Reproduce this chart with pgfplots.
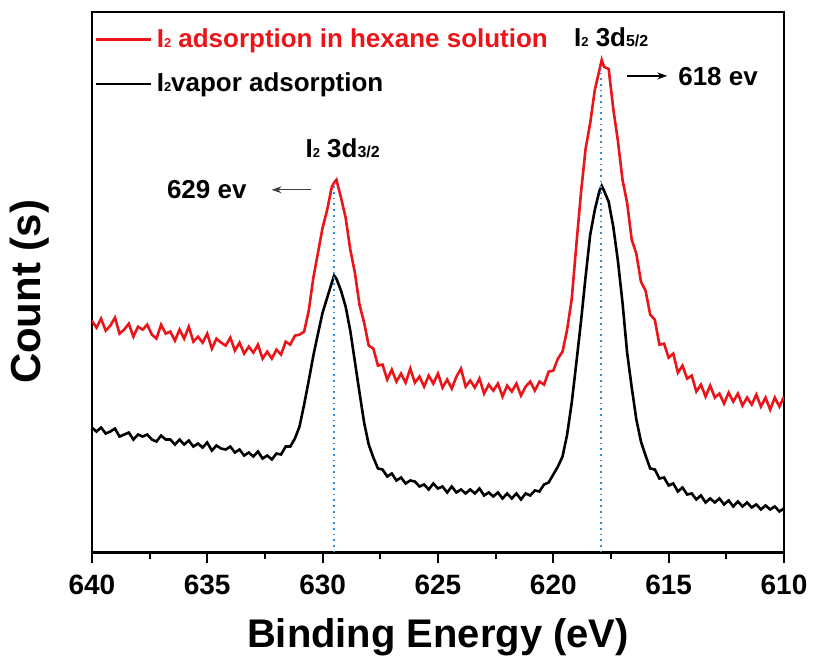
\documentclass[border=0pt]{standalone}
\usepackage{fontspec}
\setmainfont{Liberation Sans}
\usepackage{pgfplots}
\pgfplotsset{compat=1.18}
\usetikzlibrary{arrows.meta}
\definecolor{dotblue}{RGB}{45,140,230}
\definecolor{myred}{RGB}{235,20,25}
\newcommand{\sub}[1]{{\fontsize{6.5}{7}\selectfont #1}}
\newcommand{\fr}[1]{{\fontsize{8}{9}\selectfont #1}}
\begin{document}
\begin{tikzpicture}
\begin{axis}[
 scale only axis, width=346.5pt, height=270.5pt,
 xmin=610, xmax=640, x dir=reverse, ymin=0, ymax=541,
 ytick=\empty, xtick={610,615,...,640}, minor x tick num=1,
 xtick pos=left, tick align=outside,
 major tick length=5.5pt, minor tick length=3.5pt,
 tick style={line width=1pt, black},
 axis line style={line width=1.2pt},
 /pgf/number format/assume math mode=true,
 xticklabel style={font=\fontsize{14}{16}\selectfont\bfseries, yshift=-2.5pt},
 xlabel={Binding Energy (eV)}, ylabel={Count (s)},
 xlabel style={font=\fontsize{20}{24}\selectfont\bfseries, at={(axis description cs:0.5,-0.1756)}, anchor=base},
 ylabel style={font=\fontsize{21}{25}\selectfont\bfseries, at={(axis description cs:-0.0895,0.482)}, anchor=center},
 legend cell align=left,
 legend style={draw=none, fill=none, at={(axis description cs:0,1)}, anchor=north west,
   font=\fontsize{13}{15}\selectfont\bfseries, row sep=7.5pt, inner xsep=1pt, inner ysep=6pt,
   /tikz/every even column/.append style={column sep=2pt}},
 legend image code/.code={\draw[#1] (0pt,0pt) -- (28pt,0pt);},
]
\addplot[myred, line width=1.3pt] coordinates {
(640.0,232) (639.8,225) (639.6,234) (639.4,222) (639.2,227) (639.0,235) (638.8,219) (638.6,223)
(638.4,229) (638.2,216) (638.0,226) (637.8,223) (637.6,228) (637.4,218) (637.2,214) (637.0,228)
(636.8,219) (636.6,221) (636.4,212) (636.2,223) (636.0,214) (635.8,226) (635.6,211) (635.4,216)
(635.2,210) (635.0,219) (634.8,204) (634.6,214) (634.4,210) (634.2,207) (634.0,215) (633.8,202)
(633.6,210) (633.4,199) (633.2,206) (633.0,200) (632.8,208) (632.6,194) (632.4,201) (632.2,194)
(632.0,203) (631.8,198) (631.6,211) (631.4,208) (631.2,217) (631.0,218) (630.8,221) (630.6,242)
(630.4,275) (630.2,300) (630.0,325) (629.8,343) (629.6,366) (629.5,370) (629.4,373) (629.2,355)
(629.0,335) (628.8,303) (628.6,280) (628.4,248) (628.2,230) (628.0,207) (627.8,204) (627.6,187)
(627.4,188) (627.2,173) (627.0,183) (626.8,171) (626.6,179) (626.4,170) (626.2,184) (626.0,170)
(625.8,176) (625.6,166) (625.4,177) (625.2,169) (625.0,179) (624.8,165) (624.6,173) (624.4,164)
(624.2,176) (624.0,184) (623.8,166) (623.6,172) (623.4,165) (623.2,174) (623.0,159) (622.8,168)
(622.6,162) (622.4,169) (622.2,156) (622.0,167) (621.8,161) (621.6,169) (621.4,157) (621.2,166)
(621.0,171) (620.8,162) (620.6,171) (620.4,168) (620.2,181) (620.0,182) (619.8,194) (619.6,201)
(619.4,223) (619.2,254) (619.0,308) (618.8,360) (618.6,404) (618.4,430) (618.2,463) (618.0,483)
(617.9,493) (617.8,486) (617.6,484) (617.4,444) (617.2,412) (617.0,373) (616.8,350) (616.6,313)
(616.4,299) (616.2,271) (616.0,262) (615.8,238) (615.6,233) (615.4,208) (615.2,209) (615.0,195)
(614.8,199) (614.6,180) (614.4,187) (614.2,174) (614.0,177) (613.8,161) (613.6,168) (613.4,156)
(613.2,167) (613.0,155) (612.8,159) (612.6,149) (612.4,160) (612.2,151) (612.0,159) (611.8,147)
(611.6,155) (611.4,148) (611.2,158) (611.0,146) (610.8,155) (610.6,143) (610.4,155) (610.2,146)
(610.0,156)
};
\addlegendentry{\textcolor{myred}{I\sub{2} adsorption in hexane solution}}
\addplot[black, line width=1.3pt] coordinates {
(640.0,125) (639.8,121) (639.6,125) (639.4,119) (639.2,121) (639.0,124) (638.8,116) (638.6,118)
(638.4,120) (638.2,113) (638.0,118) (637.8,116) (637.6,118) (637.4,113) (637.2,111) (637.0,117)
(636.8,113) (636.6,113) (636.4,108) (636.2,113) (636.0,108) (635.8,112) (635.6,106) (635.4,109)
(635.2,105) (635.0,110) (634.8,102) (634.6,107) (634.4,104) (634.2,103) (634.0,106) (633.8,100)
(633.6,103) (633.4,97) (633.2,100) (633.0,96) (632.8,101) (632.6,94) (632.4,97) (632.2,93)
(632.0,99) (631.8,98) (631.6,106) (631.4,106) (631.2,114) (631.0,126) (630.8,148) (630.6,172)
(630.4,197) (630.2,219) (630.0,240) (629.8,255) (629.6,270) (629.5,277) (629.4,274) (629.2,262)
(629.0,246) (628.8,222) (628.6,191) (628.4,160) (628.2,130) (628.0,108) (627.8,95) (627.6,84)
(627.4,83) (627.2,76) (627.0,79) (626.8,72) (626.6,75) (626.4,69) (626.2,72) (626.0,71)
(625.8,66) (625.6,68) (625.4,63) (625.2,69) (625.0,64) (624.8,66) (624.6,60) (624.4,66)
(624.2,60) (624.0,63) (623.8,59) (623.6,63) (623.4,59) (623.2,64) (623.0,57) (622.8,60)
(622.6,56) (622.4,60) (622.2,54) (622.0,59) (621.8,54) (621.6,59) (621.4,53) (621.2,59)
(621.0,57) (620.8,62) (620.6,61) (620.4,68) (620.2,70) (620.0,78) (619.8,86) (619.6,96)
(619.4,118) (619.2,150) (619.0,190) (618.8,231) (618.6,276) (618.4,318) (618.2,343) (618.0,362)
(617.9,367) (617.8,362) (617.6,351) (617.4,326) (617.2,292) (617.0,250) (616.8,200) (616.6,165)
(616.4,133) (616.2,111) (616.0,97) (615.8,84) (615.6,83) (615.4,74) (615.2,75) (615.0,67)
(614.8,69) (614.6,61) (614.4,65) (614.2,58) (614.0,59) (613.8,53) (613.6,57) (613.4,50)
(613.2,54) (613.0,50) (612.8,54) (612.6,48) (612.4,52) (612.2,46) (612.0,51) (611.8,46)
(611.6,50) (611.4,45) (611.2,48) (611.0,43) (610.8,47) (610.6,43) (610.4,46) (610.2,41)
(610.0,44)
};
\addlegendentry{I\sub{2}vapor adsorption}
\addplot[dotblue, line width=0.85pt, dotted, forget plot] coordinates {(629.5,0) (629.5,368)};
\addplot[dotblue, line width=0.85pt, dotted, forget plot] coordinates {(617.92,0) (617.92,485)};
\node[font=\fontsize{13}{15}\selectfont\bfseries] at (axis cs:629.13,405) {I\sub{2} 3d\fr{3/2}};
\node[font=\fontsize{13}{15}\selectfont\bfseries] at (axis cs:617.49,516) {I\sub{2} 3d\fr{5/2}};
\node[font=\fontsize{13}{15}\selectfont\bfseries] at (axis cs:635.02,363) {629 ev};
\node[font=\fontsize{13}{15}\selectfont\bfseries] at (axis cs:612.86,476) {618 ev};
\draw[-{Stealth[length=5pt,width=3.5pt]}, line width=0.6pt, black!75] (axis cs:630.52,363) -- (axis cs:632.21,363);
\draw[-{Stealth[length=5pt,width=3.5pt]}, line width=0.6pt] (axis cs:616.80,477) -- (axis cs:615.06,477);
\end{axis}
\path ([xshift=-46pt,yshift=-53pt]current axis.south west) rectangle ([xshift=14.5pt,yshift=6pt]current axis.north east);
\end{tikzpicture}
\end{document}
